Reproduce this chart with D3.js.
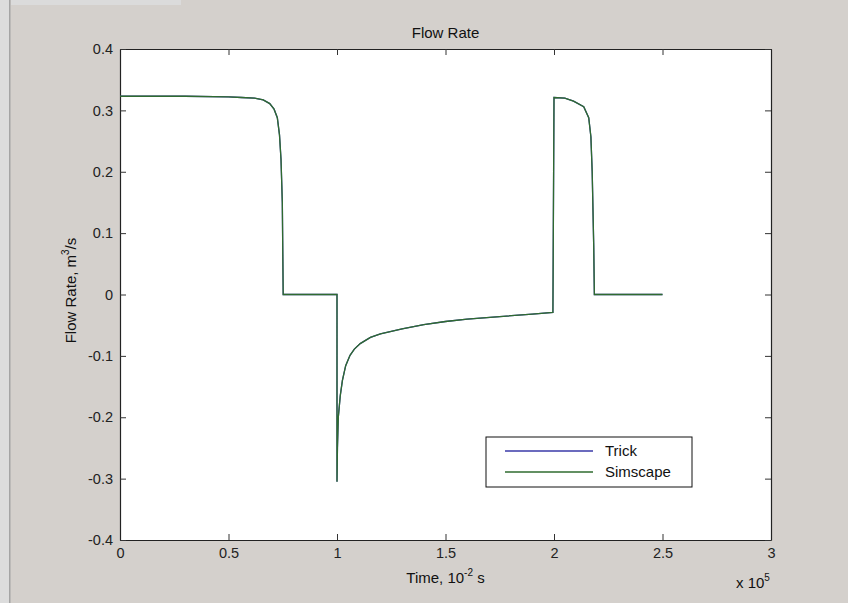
<!DOCTYPE html>
<html>
<head>
<meta charset="utf-8">
<script src="https://cdn.jsdelivr.net/npm/d3@7"></script>
<style>
  body { margin: 0; background: #d4d0cc; }
  svg { display: block; font-family: "Liberation Sans", Arial, sans-serif; }
</style>
</head>
<body>
<svg id="chart" width="848" height="603"></svg>
<script>
// flow rate samples (x in units of 1e5 * 1e-2 s, y in m^3/s)
const timeVals = [0, 0.3, 0.5, 0.56, 0.62, 0.66, 0.69, 0.71, 0.725, 0.735, 0.742, 0.748, 0.752,
  1.0, 1.0, 1.002, 1.006, 1.015, 1.025, 1.04, 1.06, 1.08, 1.107, 1.154, 1.2, 1.3, 1.4, 1.5, 1.6, 1.75, 1.9, 1.995,
  2.0, 2.05, 2.09, 2.137, 2.16, 2.17, 2.176, 2.183, 2.186, 2.5];
const flowVals = [0.323, 0.323, 0.322, 0.321, 0.32, 0.317, 0.311, 0.302, 0.288, 0.26, 0.22, 0.15, 0,
  0, -0.305, -0.25, -0.2, -0.165, -0.14, -0.116, -0.099, -0.089, -0.08, -0.07, -0.064, -0.056, -0.049, -0.044, -0.04, -0.036, -0.032, -0.029,
  0.321, 0.32, 0.315, 0.306, 0.288, 0.257, 0.2, 0.08, 0, 0];

const xTicks = [0, 0.5, 1, 1.5, 2, 2.5, 3];
const yTicks = [-0.4, -0.3, -0.2, -0.1, 0, 0.1, 0.2, 0.3, 0.4];
const seriesNames = ["Trick", "Simscape"];
const seriesColors = ["#3a3aa8", "#2f6b2f"];

const svg = d3.select("#chart");
const margin = { left: 120, top: 49, right: 77, bottom: 63 };
const W = 848, H = 603;
const pw = W - margin.left - margin.right;
const ph = H - margin.top - margin.bottom;

// window frame artefacts
svg.append("rect").attr("width", W).attr("height", H).attr("fill", "#d4d0cc");
svg.append("rect").attr("x", 0).attr("y", 0).attr("width", 9).attr("height", H).attr("fill", "#dcdcdc");
svg.append("rect").attr("x", 9).attr("y", 0).attr("width", 1.5).attr("height", H).attr("fill", "#a4a4a4");
svg.append("rect").attr("x", 11).attr("y", 0).attr("width", 170).attr("height", 5).attr("fill", "#dbdbdb");

const x = d3.scaleLinear().domain([0, 3]).range([margin.left, margin.left + pw]);
const y = d3.scaleLinear().domain([-0.4, 0.4]).range([margin.top + ph, margin.top]);

// plot area
svg.append("rect")
  .attr("x", x(0)).attr("y", y(0.4))
  .attr("width", pw).attr("height", ph)
  .attr("fill", "#fff");

// matlab style labels use a plain hyphen for minus
const fmt = d => String(+d.toFixed(2));

const tickLen = 6;
// inward ticks on all four sides
const xAxisB = d3.axisBottom(x).tickValues(xTicks).tickSize(-tickLen).tickSizeOuter(0).tickPadding(8).tickFormat(fmt);
const xAxisT = d3.axisTop(x).tickValues(xTicks).tickSize(-tickLen).tickSizeOuter(0).tickFormat("");
const yAxisL = d3.axisLeft(y).tickValues(yTicks).tickSize(-tickLen).tickSizeOuter(0).tickPadding(7).tickFormat(fmt);
const yAxisR = d3.axisRight(y).tickValues(yTicks).tickSize(-tickLen).tickSizeOuter(0).tickFormat("");

function styleAxis(g) {
  g.select(".domain").attr("stroke", "#222").attr("stroke-width", 1.2);
  g.selectAll(".tick line").attr("stroke", "#333");
  g.selectAll(".tick text").attr("fill", "#222").style("font-size", "14.5px");
}

svg.append("g").attr("transform", `translate(0,${y(-0.4)})`).call(xAxisB).call(styleAxis);
svg.append("g").attr("transform", `translate(0,${y(0.4)})`).call(xAxisT).call(styleAxis);
svg.append("g").attr("transform", `translate(${x(0)},0)`).call(yAxisL).call(styleAxis);
svg.append("g").attr("transform", `translate(${x(3)},0)`).call(yAxisR).call(styleAxis);

// data lines (Trick drawn first, hidden beneath Simscape)
const pts = timeVals.map((t, i) => [t, flowVals[i]]);
const line = d3.line().x(d => x(d[0])).y(d => y(d[1]));
seriesNames.forEach((name, i) => {
  svg.append("path")
    .datum(pts)
    .attr("d", line)
    .attr("fill", "none")
    .attr("stroke", seriesColors[i])
    .attr("stroke-width", 1.3);
});

// title and labels
svg.append("text")
  .attr("x", x(1.5)).attr("y", 38)
  .attr("text-anchor", "middle")
  .style("font-size", "15px").attr("fill", "#111")
  .text("Flow Rate");

const xl = svg.append("text")
  .attr("x", x(1.5)).attr("y", 583)
  .attr("text-anchor", "middle")
  .style("font-size", "15px").attr("fill", "#111");
xl.append("tspan").text("Time, 10");
xl.append("tspan").attr("dy", -7).style("font-size", "10px").text("-2");
xl.append("tspan").attr("dy", 7).text(" s");

const xm = svg.append("text")
  .attr("x", 736).attr("y", 588)
  .style("font-size", "15px").attr("fill", "#111");
xm.append("tspan").text("x 10");
xm.append("tspan").attr("dy", -7).style("font-size", "10px").text("5");

const yl = svg.append("text")
  .attr("transform", `translate(76,${y(0) - 4}) rotate(-90)`)
  .attr("text-anchor", "middle")
  .style("font-size", "15px").attr("fill", "#111");
yl.append("tspan").text("Flow Rate, m");
yl.append("tspan").attr("dy", -7).style("font-size", "10px").text("3");
yl.append("tspan").attr("dy", 7).text("/s");

// legend
const lg = svg.append("g").attr("transform", "translate(486,437)");
lg.append("rect").attr("width", 206).attr("height", 50)
  .attr("fill", "#fff").attr("stroke", "#111").attr("stroke-width", 1);
seriesNames.forEach((name, i) => {
  const yy = 14 + i * 21;
  lg.append("line").attr("x1", 19).attr("x2", 107).attr("y1", yy).attr("y2", yy)
    .attr("stroke", seriesColors[i]).attr("stroke-width", 1.3);
  lg.append("text").attr("x", 119).attr("y", yy + 5)
    .style("font-size", "15px").attr("fill", "#111").text(name);
});
</script>
</body>
</html>
